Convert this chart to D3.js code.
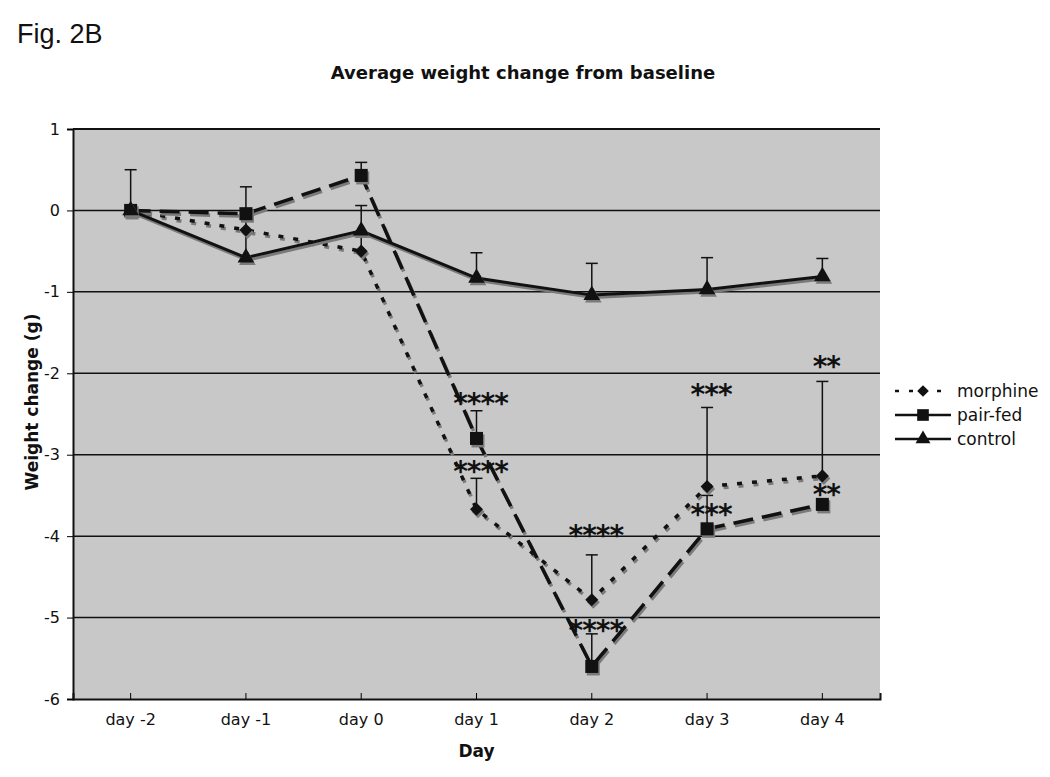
<!DOCTYPE html>
<html>
<head>
<meta charset="utf-8">
<script src="https://cdnjs.cloudflare.com/ajax/libs/d3/7.8.5/d3.min.js"></script>
<style>
    body { margin: 0; background: #fff; }
    svg text { fill: #111; }
    .tick-label { font-family: "DejaVu Sans", Verdana, sans-serif; font-size: 16px; }
    .bold { font-family: "DejaVu Sans", Verdana, sans-serif; font-weight: bold; }
</style>
</head>
<body>
<div class="chart"></div>
<script>
// DATA //
var days = ['day -2', 'day -1', 'day 0', 'day 1', 'day 2', 'day 3', 'day 4'];
var yTicks = [1, 0, -1, -2, -3, -4, -5, -6];

var morphine = [0, -0.24, -0.5, -3.67, -4.78, -3.39, -3.26];
var pairFed = [0, -0.04, 0.43, -2.8, -5.6, -3.91, -3.61];
var control = [0, -0.58, -0.25, -0.83, -1.04, -0.97, -0.81];

// upper error bar ends (null = not drawn)
var morphineErr = [null, null, 0.06, -3.29, -4.23, -2.42, -2.1];
var pairFedErr = [null, null, 0.59, -2.46, -5.2, -3.5, null];
var controlErr = [0.5, 0.29, null, -0.52, -0.65, -0.58, -0.59];

// significance labels: [day, level of label centre, text]
var morphineStars = [['day 1', -3.13, '****'], ['day 2', -3.91, '****'], ['day 3', -2.18, '***'], ['day 4', -1.84, '**']];
var pairFedStars = [['day 1', -2.29, '****'], ['day 2', -5.08, '****'], ['day 3', -3.65, '***'], ['day 4', -3.41, '**']];

// LAYOUT //
var margin = { top: 129, left: 73 },
    width = 807,
    height = 570;

var svg = d3.select('.chart').append('svg')
    .attr('width', 1050)
    .attr('height', 777);

svg.append('text')
    .attr('x', 17).attr('y', 43)
    .style('font-family', '"Liberation Sans", Arial, sans-serif')
    .style('font-size', '27px')
    .text('Fig. 2B');

svg.append('text')
    .attr('class', 'bold')
    .attr('x', 523).attr('y', 79)
    .attr('text-anchor', 'middle')
    .style('font-size', '18px')
    .text('Average weight change from baseline');

var g = svg.append('g')
    .attr('transform', 'translate(' + margin.left + ',' + margin.top + ')');

var xScale = d3.scaleBand().domain(days).range([0, width]).padding(0);
var yScale = d3.scaleLinear().domain([-6, 1]).range([height, 0]);

function xc(d) { return xScale(d) + xScale.bandwidth() / 2; }

g.append('rect')
    .attr('width', width).attr('height', height)
    .attr('fill', '#c8c8c8');

// gridlines
g.selectAll('.grid').data(yTicks.slice(1, -1)).enter().append('line')
    .attr('x1', 0).attr('x2', width)
    .attr('y1', function(d) { return yScale(d); })
    .attr('y2', function(d) { return yScale(d); })
    .attr('stroke', '#111').attr('stroke-width', 1.5);

g.append('line')
    .attr('x1', 0).attr('x2', width)
    .attr('y1', 0).attr('y2', 0)
    .attr('stroke', '#111').attr('stroke-width', 2);

// axes
var yAxis = g.append('g')
    .call(d3.axisLeft(yScale).tickValues(yTicks).tickSize(6).tickPadding(7)
        .tickFormat(function(d) { return String(d); }));
yAxis.select('.domain').attr('stroke', '#111').attr('stroke-width', 2);
yAxis.selectAll('text').attr('class', 'tick-label');

var xAxis = g.append('g')
    .attr('transform', 'translate(0,' + height + ')')
    .call(d3.axisBottom(xScale).tickSize(-6).tickPadding(12));
xAxis.select('.domain').attr('stroke', '#111').attr('stroke-width', 2);
xAxis.selectAll('text').attr('class', 'tick-label').attr('dy', '0.9em');

svg.append('text')
    .attr('class', 'bold')
    .attr('transform', 'translate(38,' + (margin.top + height / 2 - 12) + ') rotate(-90)')
    .attr('text-anchor', 'middle')
    .style('font-size', '17px')
    .text('Weight change (g)');

svg.append('text')
    .attr('class', 'bold')
    .attr('x', margin.left + width / 2).attr('y', 757)
    .attr('text-anchor', 'middle')
    .style('font-size', '17px')
    .text('Day');

// SERIES //
// diamond = square turned 45 degrees, like the Excel marker
var series = [
    { name: 'morphine', values: morphine, err: morphineErr, dash: '5,10', width: 3.5, shape: d3.symbolSquare, size: 85, rot: 45 },
    { name: 'pair-fed', values: pairFed, err: pairFedErr, dash: '20,9', width: 3.5, shape: d3.symbolSquare, size: 170, rot: 0 },
    { name: 'control', values: control, err: controlErr, dash: null, width: 3, shape: d3.symbolTriangle, size: 120, rot: 0 }
];

var line = d3.line()
    .x(function(d, i) { return xc(days[i]); })
    .y(function(d) { return yScale(d); });

// error bars
series.forEach(function(s) {
    s.err.forEach(function(e, i) {
        if (e === null) return;
        var x = xc(days[i]);
        g.append('line')
            .attr('x1', x).attr('x2', x)
            .attr('y1', yScale(s.values[i])).attr('y2', yScale(e))
            .attr('stroke', '#111').attr('stroke-width', 1.5);
        g.append('line')
            .attr('x1', x - 6).attr('x2', x + 6)
            .attr('y1', yScale(e)).attr('y2', yScale(e))
            .attr('stroke', '#111').attr('stroke-width', 1.5);
    });
});

// shadows then lines
series.forEach(function(s) {
    g.append('path')
        .datum(s.values)
        .attr('d', line)
        .attr('transform', 'translate(1.5,2.5)')
        .attr('fill', 'none')
        .attr('stroke', '#7a7a7a')
        .attr('stroke-width', s.width)
        .attr('stroke-dasharray', s.dash);
    g.append('path')
        .datum(s.values)
        .attr('d', line)
        .attr('fill', 'none')
        .attr('stroke', '#111')
        .attr('stroke-width', s.width)
        .attr('stroke-dasharray', s.dash);
});

series.forEach(function(s) {
    var sym = d3.symbol().type(s.shape).size(s.size);
    g.selectAll('.m-' + s.name).data(s.values).enter().append('path')
        .attr('d', sym)
        .attr('transform', function(d, i) {
            return 'translate(' + (xc(days[i]) + 1.5) + ',' + (yScale(d) + 2.5) + ') rotate(' + s.rot + ')';
        })
        .attr('fill', '#7a7a7a');
    g.selectAll('.n-' + s.name).data(s.values).enter().append('path')
        .attr('d', sym)
        .attr('transform', function(d, i) {
            return 'translate(' + xc(days[i]) + ',' + yScale(d) + ') rotate(' + s.rot + ')';
        })
        .attr('fill', '#111');
});

// significance stars (baseline shifted so the glyphs centre on the level)
g.selectAll('.stars').data(morphineStars.concat(pairFedStars)).enter().append('text')
    .attr('class', 'bold')
    .attr('x', function(d) { return xc(d[0]) + 4; })
    .attr('y', function(d) { return yScale(d[1]) + 16; })
    .attr('text-anchor', 'middle')
    .style('font-size', '28px')
    .style('letter-spacing', '-1px')
    .text(function(d) { return d[2]; });

// LEGEND //
var legend = svg.append('g').attr('transform', 'translate(895,391)');
series.forEach(function(s, i) {
    var row = legend.append('g').attr('transform', 'translate(0,' + (i * 24) + ')');
    row.append('line')
        .attr('x1', 0).attr('x2', 56)
        .attr('stroke', '#111')
        .attr('stroke-width', 2.5)
        .attr('stroke-dasharray', s.dash === '5,10' ? '4,10' : null);
    row.append('path')
        .attr('d', d3.symbol().type(s.shape).size(s.size * 0.8))
        .attr('transform', 'translate(28,0) rotate(' + s.rot + ')')
        .attr('fill', '#111');
    row.append('text')
        .attr('x', 62).attr('y', 6)
        .style('font-family', '"DejaVu Sans", Verdana, sans-serif')
        .style('font-size', '17px')
        .text(s.name);
});
</script>
</body>
</html>
